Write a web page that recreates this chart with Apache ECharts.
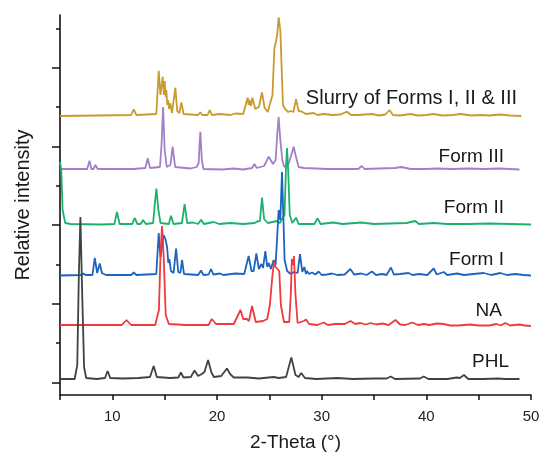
<!DOCTYPE html>
<html>
<head>
<meta charset="utf-8">
<script src="https://cdn.jsdelivr.net/npm/echarts@6/dist/echarts.min.js"></script>
<style>
  html, body { margin: 0; padding: 0; background: #fff; }
  #main { width: 540px; height: 453px; }
</style>
</head>
<body>
<div id="main"></div>
<script>
// 2-Theta (deg) vs stacked intensity (arbitrary units)
const phl = [[5,16],[6.4,16],[6.65,30],[6.8,120],[6.95,178],[7.1,110],[7.3,28],[7.5,17],[8.5,16],[9.3,17],[9.55,24],[9.8,17],[11,16.5],[12.5,17],[13.6,18],[13.95,29],[14.25,18],[15.5,17],[16.3,17.5],[16.55,22.5],[16.8,17.5],[17.5,18],[17.85,24.5],[18.2,19],[18.55,21],[18.8,23],[19.15,35],[19.45,23],[19.7,18],[20.4,19],[20.95,26.5],[21.25,21],[21.6,17.5],[22.9,17.5],[24,16.5],[25.4,18],[25.9,17],[26.6,18],[27.1,37.5],[27.5,20],[27.8,18],[28.05,22],[28.4,17],[29.5,16],[31.5,17],[33,16],[35,16.5],[36.2,16.5],[36.6,18.5],[37,16],[39.4,16.5],[39.75,18.5],[40.2,16],[42,16],[42.9,17.5],[43.2,17],[43.6,20],[44,16],[45.5,16],[46.8,16.5],[47.5,16],[48.9,16]];

const na = [[5,70],[10.9,70],[11.35,75],[11.8,70],[14.1,70],[14.45,85],[14.6,140],[14.75,169],[14.9,140],[15.1,80],[15.4,71],[17,70],[19.2,70],[19.5,76],[19.9,71],[21.6,71],[22.25,85],[22.5,76],[22.6,77],[22.85,76],[23.05,74],[23.35,89],[23.7,73],[24.4,74],[24.8,76],[25.05,90],[25.3,120],[25.45,133],[25.6,128],[25.75,130],[25.95,124],[26.1,90],[26.4,73],[26.9,73],[27.05,100],[27.15,136],[27.25,130],[27.35,139],[27.5,100],[27.7,72],[28.3,74],[28.5,75.5],[28.8,71],[29.6,70],[30.2,72.5],[30.6,70],[31.3,71],[32.2,71],[32.75,74],[33.2,71],[33.7,72],[34.2,70.5],[34.7,72],[35.2,70.5],[35.8,71.5],[36.4,70],[37.05,75],[37.5,70.5],[38,70],[38.65,72.5],[39.2,70],[39.75,71],[40.3,70],[41,71.5],[41.65,71],[42.3,69.5],[43,69.5],[44.2,70.5],[45,69.5],[46,69.5],[46.7,71],[47.1,69.5],[47.55,72],[48,69.5],[48.9,70.5],[49.4,69.5],[50,69]];

const formI = [[5,119.5],[7.05,120],[7.25,121.5],[7.45,120],[8.1,120],[8.32,137],[8.55,122],[8.8,131.5],[9.0,122],[9.18,123.5],[9.4,120],[11.8,120],[12.04,122.5],[12.3,120],[14.2,121],[14.43,162],[14.6,138],[14.7,145],[14.9,160],[15.07,156],[15.23,148],[15.35,132],[15.45,136],[15.6,124],[15.85,122],[16.09,146.5],[16.3,123],[16.5,122],[16.66,135],[16.85,121],[18.2,120],[18.47,124.5],[18.7,120],[19.2,120.5],[19.43,126],[19.65,120.5],[20.3,121.5],[20.6,120],[21.75,121.5],[22.6,121],[23.02,139],[23.3,124],[23.5,124],[23.76,141.5],[24.0,126],[24.24,131],[24.4,127],[24.62,144],[24.8,128],[24.94,132],[25.15,126],[25.41,135],[25.6,130],[25.89,185],[26.05,175],[26.21,223],[26.35,175],[26.46,135],[26.7,124],[26.84,126],[27.05,121],[27.36,123],[27.7,122],[27.93,141],[28.15,123],[28.34,128],[28.5,121],[28.6,124],[28.8,121],[29.08,122.5],[29.4,120.5],[29.71,123.5],[30,120],[30.5,120.5],[31,121.5],[31.5,120],[32.2,120.5],[32.74,126],[33.1,120.5],[33.8,121.5],[34.3,120],[34.8,123.5],[35.2,120],[35.8,121],[36.2,120],[36.62,127.5],[36.9,120.5],[37.5,121],[38.3,122],[38.7,120],[39.3,121],[40.1,120],[40.7,126.5],[41,120.5],[41.66,123],[42,120],[42.93,121.5],[43.6,120],[44.5,121],[45.48,122],[46.2,120],[47.07,122],[47.7,120],[48.5,121],[49.3,120],[50,119.5]];

const formII = [[5,233],[5.12,225],[5.25,185],[5.5,172],[6,171],[9,170.5],[10.2,171],[10.44,183],[10.7,171],[11.9,171],[12.13,177],[12.4,171],[12.7,171],[12.94,175],[13.2,171],[13.9,172],[14.05,190],[14.21,206.5],[14.4,185],[14.6,172],[15.4,171],[15.61,179.3],[15.85,171],[16.65,172],[16.91,191],[17.15,172],[17.71,172.5],[18.2,171],[18.47,175.3],[18.75,171],[19.68,173],[20.2,171],[21.28,172],[22.5,171],[23.6,172],[23.83,173.5],[24.1,174],[24.3,197.3],[24.5,176],[24.62,176],[24.85,172],[25.74,174],[26.0,172],[26.45,180],[26.6,230],[26.69,247],[26.8,225],[26.95,180],[27.2,172],[27.55,177.3],[27.8,171],[29.3,171],[29.61,176.7],[29.9,171],[31.1,172.5],[32,171],[33.79,172.5],[35,171],[36.5,171.5],[38.1,172],[38.94,174],[39.3,171],[40.7,172],[42,171],[44,171],[46,171.5],[48,171],[50,170.5]];

const formIII = [[5,226],[7.6,226],[7.82,234.3],[8.0,226],[8.2,226],[8.39,230],[8.6,226],[12,226],[13.15,227],[13.38,236.7],[13.6,227],[14.55,228],[14.7,250],[14.85,288],[15.0,245],[15.2,228],[15.55,230],[15.76,248.3],[16.0,228],[17.5,226.5],[18.05,228],[18.25,232],[18.33,250],[18.41,263.3],[18.55,235],[18.7,226],[20.5,225.5],[21.6,226.5],[22.5,225.5],[23.35,227],[23.57,231],[23.8,227],[24.5,229],[24.94,238.3],[25.35,231],[25.6,235],[25.75,260],[25.89,278],[26.05,255],[26.25,234],[26.43,228],[26.8,230],[27.1,240],[27.32,248.3],[27.55,238],[27.8,228],[28.3,227],[29.5,226.5],[30.5,226],[32,226],[33.5,226],[33.83,229],[34.1,226],[35.5,226.5],[37,227],[37.6,228],[38.5,226],[40,226],[41,226.5],[42.5,226],[44,226.5],[45.5,226],[47,226.5],[48.9,225.5]];

const slurry = [[5,279],[8.5,279.5],[11.8,280],[12.04,285.7],[12.3,280],[14.2,281],[14.43,324.3],[14.6,300],[14.81,318.3],[14.93,300],[15.0,314],[15.1,298],[15.16,305],[15.25,290],[15.32,295],[15.43,286],[15.54,291.7],[15.7,282],[15.85,282],[16.02,307.3],[16.2,284],[16.4,282],[16.6,292.7],[16.8,281],[18.2,280],[18.41,282.7],[18.6,280],[19.1,280],[19.3,285],[19.5,280],[20.25,281],[21.3,280],[21.75,281.5],[22.5,281],[22.93,297.3],[23.02,290],[23.1,295],[23.25,289],[23.38,297.3],[23.66,286],[24.0,288],[24.3,302.7],[24.55,287],[24.71,285.7],[24.85,283],[25.0,284],[25.3,300],[25.48,346.7],[25.6,351.7],[25.75,360],[25.89,377.7],[26.05,365],[26.2,320],[26.3,290],[26.53,285.7],[26.8,283],[27.0,284],[27.3,283],[27.55,295.7],[27.8,284],[28.12,283.3],[28.5,281],[29.24,282],[29.6,280],[30.2,281],[31,280],[31.8,280.5],[32.43,283.3],[32.8,280],[33.5,280],[34.1,280.5],[34.8,281],[35.5,279.5],[36.1,280.5],[36.49,285],[36.8,280],[37.5,279.5],[38.47,281],[39.2,279.5],[40,280],[40.7,281],[41.5,279.5],[42.5,280],[43.3,281],[44.3,279.5],[45.2,280],[46,279.5],[47.1,280.5],[48,279.5],[49.07,279]];

const majorTicks = [12.7, 91.4, 170, 248.7, 327.4];
const minorTicks = [52, 130.7, 209.4, 288, 366.7];

const chart = echarts.init(document.getElementById('main'));
const font = 'Liberation Sans, Arial, sans-serif';

function trace(name, data, color) {
  return {
    name: name,
    type: 'line',
    data: data,
    showSymbol: false,
    symbol: 'none',
    lineStyle: { color: color, width: 1.8 },
    animation: false
  };
}

// series name written at the right end of its trace
function tag(text, right, y, size) {
  return {
    type: 'text',
    x: right,
    y: y,
    style: {
      text: text,
      fill: '#1a1a1a',
      font: size + 'px ' + font,
      align: 'right',
      verticalAlign: 'middle'
    }
  };
}

chart.setOption({
  backgroundColor: '#fff',
  animation: false,
  grid: { left: 60, right: 9, top: 15, bottom: 58, outerBoundsMode: 'none' },
  xAxis: {
    type: 'value',
    min: 5,
    max: 50,
    interval: 5,
    name: '2-Theta (°)',
    nameLocation: 'middle',
    nameGap: 38,
    nameTextStyle: { fontSize: 19, color: '#1a1a1a', fontFamily: font },
    axisLine: { lineStyle: { color: '#111', width: 1.6 } },
    axisTick: { length: 5, lineStyle: { color: '#111', width: 1.5 } },
    axisLabel: {
      margin: 14,
      fontSize: 15,
      color: '#222',
      fontFamily: font,
      formatter: function (v) { return v % 10 === 0 ? String(v) : ''; }
    },
    splitLine: { show: false }
  },
  yAxis: [
    {
      type: 'value',
      min: 0,
      max: 380,
      name: 'Relative intensity',
      nameLocation: 'middle',
      nameGap: 27,
      nameTextStyle: { fontSize: 20, color: '#1a1a1a', fontFamily: font },
      axisLine: { show: true, lineStyle: { color: '#111', width: 1.6 } },
      axisTick: { show: true, length: 8, customValues: majorTicks, lineStyle: { color: '#111', width: 1.5 } },
      axisLabel: { show: false },
      splitLine: { show: false }
    },
    {
      type: 'value',
      min: 0,
      max: 380,
      position: 'left',
      axisLine: { show: false },
      axisTick: { show: true, length: 4, customValues: minorTicks, lineStyle: { color: '#111', width: 1.5 } },
      axisLabel: { show: false },
      splitLine: { show: false }
    }
  ],
  series: [
    trace('Form III', formIII, '#a47fc9'),
    trace('Form II', formII, '#1cb06c'),
    trace('Form I', formI, '#1c64c0'),
    trace('NA', na, '#ef3a40'),
    trace('PHL', phl, '#3e4444'),
    trace('Slurry of Forms I, II & III', slurry, '#c99a30')
  ],
  graphic: [
    tag('Slurry of Forms I, II & III', 517, 98, 20),
    tag('Form III', 504, 157, 19),
    tag('Form II', 504, 208, 19),
    tag('Form I', 504, 260, 19),
    tag('NA', 502, 311, 19),
    tag('PHL', 509, 362, 19)
  ]
});
</script>
</body>
</html>
